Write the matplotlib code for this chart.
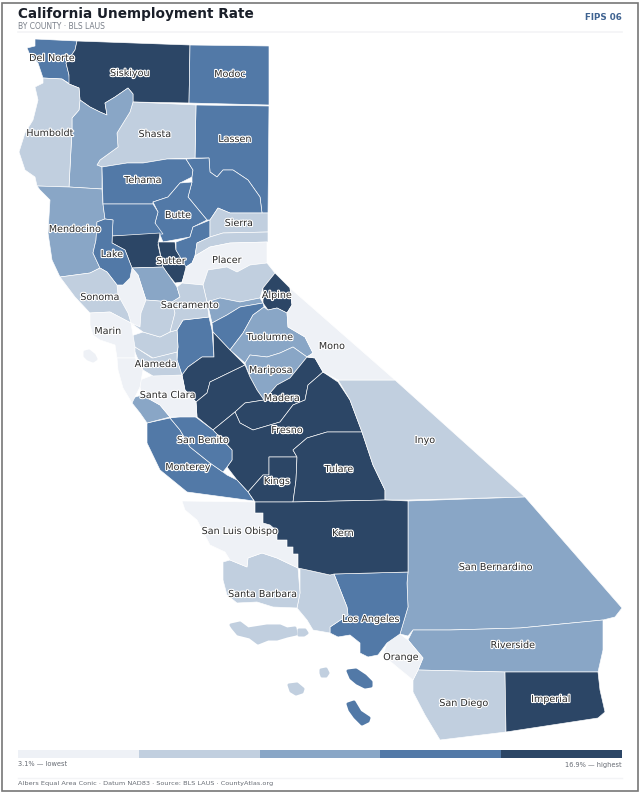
import matplotlib
matplotlib.use("Agg")
import matplotlib.pyplot as plt
import matplotlib.patheffects as pe
from matplotlib.colors import BoundaryNorm, ListedColormap
from matplotlib.patches import Polygon, Rectangle

TITLE = "California Unemployment Rate"
SUBTITLE = "BY COUNTY · BLS LAUS"
BADGE = "FIPS 06"
LOW_LABEL = "3.1% — lowest"
HIGH_LABEL = "16.9% — highest"
FOOTER = "Albers Equal Area Conic · Datum NAD83 · Source: BLS LAUS · CountyAtlas.org"

PALETTE = ["#eef1f6", "#c1cfdf", "#89a6c6", "#5279a7", "#2c4666"]
CLASS_EDGES = [3.1, 4.5, 5.5, 6.5, 8.0, 16.9]
LEGEND_VALUES = [3.8, 5.0, 6.0, 7.2, 12.0]

# unemployment rate per county, estimated from the fill class
RATES = {
    "Del Norte": 7.2, "Siskiyou": 8.6, "Modoc": 7.4, "Lassen": 6.9, "Shasta": 5.2,
    "Trinity": 6.1, "Humboldt": 4.9, "Mendocino": 5.8, "Tehama": 7.1, "Plumas": 7.7,
    "Butte": 7.0, "Glenn": 7.3, "Colusa": 14.2, "Sutter": 9.6, "Yuba": 7.5,
    "Sierra": 5.3, "Nevada": 4.8, "Placer": 4.1, "El Dorado": 5.0, "Alpine": 8.8,
    "Amador": 6.0, "Calaveras": 6.8, "Tuolumne": 6.2, "Mariposa": 6.3, "San Joaquin": 7.6,
    "Stanislaus": 9.2, "Merced": 11.5, "Madera": 9.4, "Fresno": 10.1, "Kings": 10.4,
    "Tulare": 12.3, "Inyo": 4.7, "Mono": 3.9, "San Bernardino": 6.0, "Riverside": 6.2,
    "San Diego": 5.0, "Imperial": 16.9, "Orange": 3.9, "Los Angeles": 7.0, "Ventura": 5.3,
    "Santa Barbara": 4.9, "San Luis Obispo": 3.7, "Kern": 9.9, "Monterey": 7.2,
    "San Benito": 7.4, "Santa Cruz": 6.1, "Santa Clara": 4.2, "Alameda": 5.1,
    "Contra Costa": 5.2, "Yolo": 5.9, "Napa": 3.8, "Solano": 5.4, "Sacramento": 5.0,
    "Lake": 7.8, "Sonoma": 4.6, "Marin": 3.4, "San Mateo": 3.1,
}

# county outlines, in image pixels
OUTLINES = {
    "Del Norte": [(35,39),(77,41),(75,50),(66,63),(69,75),(70,84),(62,79),(43,78),(38,63),(30,55),(27,48),(35,46)],
    "Siskiyou": [(77,41),(190,45),(189,103),(133,102),(133,94),(128,88),(115,97),(105,103),(107,115),(100,112),(90,107),(80,100),(79,88),(69,84),(69,75),(66,63),(75,50)],
    "Modoc": [(190,45),(269,46),(269,105),(189,103)],
    "Lassen": [(196,105),(269,106),(268,213),(262,213),(260,197),(248,180),(233,170),(223,170),(217,177),(210,172),(209,158),(195,158)],
    "Shasta": [(133,102),(130,112),(117,133),(118,147),(100,160),(97,165),(102,167),(127,163),(143,163),(167,159),(195,158),(196,105)],
    "Trinity": [(80,100),(90,107),(100,112),(107,115),(105,103),(115,97),(128,88),(133,94),(133,102),(130,112),(117,133),(118,147),(100,160),(97,165),(102,167),(102,189),(69,187),(72,130),(72,118),(79,110)],
    "Humboldt": [(43,78),(62,79),(69,84),(79,88),(80,100),(79,110),(72,118),(72,130),(69,187),(37,186),(35,177),(25,170),(19,152),(25,133),(33,120),(38,100),(35,87),(43,83)],
    "Mendocino": [(37,186),(69,187),(102,189),(103,204),(105,219),(97,222),(96,240),(93,253),(100,268),(90,273),(60,277),(52,260),(48,233),(50,200),(40,190)],
    "Tehama": [(102,167),(127,163),(143,163),(167,159),(186,159),(193,170),(192,177),(180,183),(168,197),(153,202),(153,204),(103,204)],
    "Plumas": [(186,159),(209,158),(210,172),(217,177),(223,170),(233,170),(248,180),(260,197),(262,213),(230,213),(218,208),(210,220),(207,220),(188,197),(192,182),(192,177),(193,170)],
    "Butte": [(192,182),(188,197),(207,220),(193,227),(190,237),(163,242),(155,223),(158,212),(153,202),(168,197),(180,183)],
    "Glenn": [(103,204),(153,204),(158,212),(155,223),(163,234),(112,236),(113,220),(105,219)],
    "Colusa": [(112,236),(160,233),(158,245),(163,267),(132,268),(125,250),(112,243)],
    "Sutter": [(158,242),(175,242),(176,250),(187,267),(182,282),(175,283),(167,273),(163,267)],
    "Yuba": [(176,242),(190,237),(193,227),(210,220),(210,237),(197,243),(195,256),(192,263),(186,267),(176,250)],
    "Sierra": [(210,220),(218,208),(230,213),(268,213),(268,232),(223,233),(210,237)],
    "Nevada": [(210,237),(223,233),(268,232),(268,242),(230,243),(210,247),(195,256),(197,243)],
    "Placer": [(267,242),(230,243),(210,247),(195,256),(192,263),(186,267),(182,283),(203,285),(208,270),(227,267),(237,272),(250,265),(267,263)],
    "El Dorado": [(208,270),(227,267),(237,272),(250,265),(267,263),(275,273),(263,288),(260,298),(240,302),(220,298),(207,302),(203,285)],
    "Alpine": [(275,273),(290,288),(292,305),(287,313),(277,308),(268,310),(263,303),(263,288)],
    "Amador": [(207,302),(220,298),(240,302),(260,298),(263,303),(240,307),(227,315),(212,323),(209,310)],
    "Calaveras": [(212,323),(227,315),(240,307),(263,303),(264,307),(253,315),(243,333),(230,350),(213,332)],
    "Tuolumne": [(264,307),(268,310),(277,308),(287,313),(288,327),(305,337),(313,353),(307,357),(293,347),(280,353),(267,357),(250,355),(245,363),(230,350),(243,333),(253,315)],
    "Mariposa": [(245,363),(250,355),(267,357),(280,353),(293,347),(307,357),(290,378),(277,385),(264,400),(257,390),(250,377)],
    "San Joaquin": [(177,330),(183,320),(209,317),(212,330),(214,357),(202,357),(188,367),(182,375),(177,360),(178,347)],
    "Stanislaus": [(213,332),(230,350),(245,365),(210,382),(207,393),(196,402),(185,390),(182,375),(188,367),(202,357),(214,357)],
    "Merced": [(245,365),(250,377),(257,390),(264,400),(245,403),(235,412),(213,430),(197,417),(196,402),(207,393),(210,382)],
    "Madera": [(264,400),(277,385),(290,378),(307,357),(315,358),(323,372),(308,385),(305,400),(293,405),(280,422),(253,430),(240,423),(235,412),(245,403)],
    "Fresno": [(235,412),(240,423),(253,430),(280,422),(293,405),(305,400),(308,385),(323,372),(338,382),(350,400),(362,432),(327,432),(307,438),(293,450),(297,457),(269,457),(269,475),(263,475),(248,492),(237,480),(227,467),(232,460),(232,450),(213,430)],
    "Kings": [(269,457),(297,457),(296,480),(293,502),(255,502),(248,492),(263,475),(269,475)],
    "Tulare": [(327,432),(362,432),(373,465),(385,490),(385,500),(293,502),(296,480),(297,457),(293,450),(307,438)],
    "Inyo": [(338,380),(395,380),(525,497),(408,500),(385,500),(385,490),(373,465),(362,432),(350,400)],
    "Mono": [(290,288),(395,380),(338,380),(323,372),(315,358),(307,357),(313,353),(305,337),(288,327),(287,313),(292,305)],
    "San Bernardino": [(408,501),(525,497),(622,608),(615,617),(603,620),(520,628),(450,630),(413,630),(408,636),(400,634),(408,607),(407,583),(408,572)],
    "Riverside": [(413,630),(450,630),(520,628),(603,620),(603,650),(598,672),(505,672),(418,670),(423,658),(408,640)],
    "San Diego": [(418,670),(505,672),(506,732),(440,740),(425,715),(413,692),(413,680)],
    "Imperial": [(505,672),(598,672),(600,690),(605,712),(598,718),(506,732)],
    "Orange": [(400,634),(408,640),(423,658),(418,670),(413,680),(397,667),(383,655),(387,643)],
    "Los Angeles": [(334,574),(408,572),(407,583),(408,607),(400,634),(387,643),(378,655),(368,657),(360,653),(360,643),(350,635),(338,637),(330,633),(330,627),(348,615),(347,607)],
    "Ventura": [(300,568),(312,571),(330,575),(334,574),(347,607),(348,615),(330,627),(330,633),(313,630),(307,620),(297,608),(300,593)],
    "Santa Barbara": [(223,562),(230,560),(247,567),(248,558),(262,553),(277,558),(298,568),(300,593),(297,608),(273,607),(257,602),(237,603),(227,595),(223,580),(223,567)],
    "San Luis Obispo": [(182,501),(255,502),(255,513),(263,513),(263,523),(270,525),(277,531),(277,540),(287,540),(287,547),(293,547),(293,554),(298,554),(298,568),(277,558),(262,553),(248,558),(247,567),(230,560),(225,552),(210,545),(197,520),(185,510)],
    "Kern": [(255,502),(293,502),(385,500),(408,501),(408,572),(334,574),(330,575),(312,571),(298,568),(298,554),(293,554),(293,547),(287,547),(287,540),(277,540),(277,531),(270,525),(263,523),(263,513),(255,513)],
    "Monterey": [(147,423),(170,418),(180,430),(190,447),(210,463),(223,472),(227,475),(237,480),(248,492),(254,501),(187,492),(160,470),(147,443)],
    "San Benito": [(170,418),(193,415),(213,430),(232,450),(232,460),(227,467),(223,472),(210,463),(190,447),(180,430)],
    "Santa Cruz": [(132,398),(142,395),(160,405),(170,417),(147,423),(140,413),(132,403)],
    "Santa Clara": [(140,380),(153,375),(182,375),(185,390),(196,402),(197,417),(177,417),(170,417),(160,405),(142,395),(140,387)],
    "Alameda": [(132,345),(152,358),(177,352),(177,360),(182,375),(153,376),(143,370),(137,357)],
    "Contra Costa": [(128,337),(143,332),(160,337),(170,332),(177,330),(178,347),(177,352),(153,358),(135,347)],
    "Yolo": [(132,268),(163,267),(177,287),(180,297),(172,302),(146,300),(138,275)],
    "Napa": [(117,285),(123,285),(130,278),(132,268),(138,275),(146,300),(141,313),(140,327),(131,323),(128,313),(118,295)],
    "Solano": [(146,300),(172,302),(175,313),(172,325),(170,332),(160,337),(143,332),(131,323),(140,327),(141,313)],
    "Sacramento": [(177,287),(182,283),(203,285),(207,302),(209,317),(183,320),(177,330),(170,332),(175,313),(172,302),(180,297)],
    "Lake": [(97,222),(105,219),(113,220),(112,243),(125,250),(132,268),(130,278),(123,285),(117,285),(107,272),(100,268),(93,253),(96,240)],
    "Sonoma": [(60,277),(90,273),(100,268),(107,272),(117,285),(118,295),(128,313),(131,323),(110,312),(90,313),(75,297)],
    "Marin": [(90,313),(110,312),(131,323),(135,347),(135,358),(117,358),(115,345),(100,340),(93,335),(90,325)],
    "San Mateo": [(117,358),(135,358),(143,370),(140,387),(132,403),(123,388),(118,370)],
}

# offshore islands: (county, outline)
ISLANDS = [
    ("Marin", [(85,352),(89,351),(94,355),(96,359),(93,361),(88,359),(85,356)]),
    ("Santa Barbara", [(231,625),(240,623),(248,629),(267,626),(280,626),(287,629),(295,628),(296,634),(287,636),(277,639),(268,639),(258,643),(250,637),(238,634),(233,628)]),
    ("Ventura", [(299,630),(305,630),(307,633),(304,635),(299,635)]),
    ("Santa Barbara", [(321,670),(326,669),(328,673),(326,676),(322,676),(321,673)]),
    ("Ventura", [(289,685),(297,684),(303,689),(302,692),(296,694),(291,691)]),
    ("Los Angeles", [(348,671),(356,670),(365,676),(371,682),(371,686),(365,687),(357,683),(351,678)]),
    ("Los Angeles", [(348,704),(354,702),(360,712),(369,718),(368,721),(362,724),(355,717),(350,710)]),
]

LABELS = {
    "Del Norte": (52,58), "Siskiyou": (130,73), "Modoc": (230,74), "Humboldt": (50,133),
    "Shasta": (155,134), "Lassen": (235,139), "Tehama": (143,180), "Butte": (178,215),
    "Mendocino": (75,229), "Sierra": (239,223), "Lake": (112,254), "Sutter": (171,261),
    "Placer": (227,260), "Alpine": (277,295), "Sonoma": (100,297), "Sacramento": (190,305),
    "Marin": (108,331), "Tuolumne": (270,337), "Mono": (332,346), "Alameda": (156,364),
    "Mariposa": (271,370), "Santa Clara": (168,395), "Madera": (282,398), "San Benito": (203,440),
    "Fresno": (287,430), "Monterey": (188,467), "Kings": (277,481), "Tulare": (339,469),
    "Inyo": (425,440), "San Luis Obispo": (240,531), "Kern": (343,533), "San Bernardino": (496,567),
    "Santa Barbara": (263,594), "Los Angeles": (371,619), "Riverside": (513,645), "Orange": (401,657),
    "San Diego": (464,703), "Imperial": (551,699),
}

cmap = ListedColormap(PALETTE)
norm = BoundaryNorm(CLASS_EDGES, cmap.N)

fig = plt.figure(figsize=(6.4, 7.94), dpi=100)
ax = fig.add_axes([0, 0, 1, 1])
ax.set_xlim(0, 640)
ax.set_ylim(794, 0)
ax.axis("off")

ax.add_patch(Rectangle((2, 2.5), 635.5, 788.5, fc="white", ec="#777777", lw=1.2))

for name, outline in OUTLINES.items():
    ax.add_patch(Polygon(outline, closed=True, fc=cmap(norm(RATES[name])), ec="white", lw=0.45, joinstyle="round"))
for name, outline in ISLANDS:
    color = cmap(norm(RATES[name]))
    ax.add_patch(Polygon(outline, closed=True, fc=color, ec=color, lw=2.2, joinstyle="round"))

halo = [pe.withStroke(linewidth=1.6, foreground="white")]
for name, (x, y) in LABELS.items():
    ax.text(x, y, name, fontsize=6.9, color="#2a2a2a", ha="center", va="center", path_effects=halo)

ax.text(18, 14, TITLE, fontsize=9.8, fontweight="bold", color="#1a1f29", ha="left", va="center")
ax.text(18, 26.5, SUBTITLE, fontsize=5.5, color="#7a808a", ha="left", va="center")
ax.text(622, 17.5, BADGE, fontsize=6.3, fontweight="bold", color="#3f6391", ha="right", va="center")
ax.plot([18, 622], [32, 32], color="#f3f4f6", lw=1.2)

seg_w = (622 - 18) / len(LEGEND_VALUES)
for i, value in enumerate(LEGEND_VALUES):
    ax.add_patch(Rectangle((18 + i * seg_w, 750), seg_w, 8, fc=cmap(norm(value)), ec="none"))
ax.text(18, 764.5, LOW_LABEL, fontsize=4.8, color="#666b73", ha="left", va="center")
ax.text(622, 764.5, HIGH_LABEL, fontsize=4.8, color="#666b73", ha="right", va="center")
ax.plot([18, 622], [777.5, 777.5], color="#f3f4f6", lw=1)
ax.text(18, 784, FOOTER, fontsize=4.65, color="#666b73", ha="left", va="center")

fig.savefig("out.png", dpi=100)
plt.close(fig)
